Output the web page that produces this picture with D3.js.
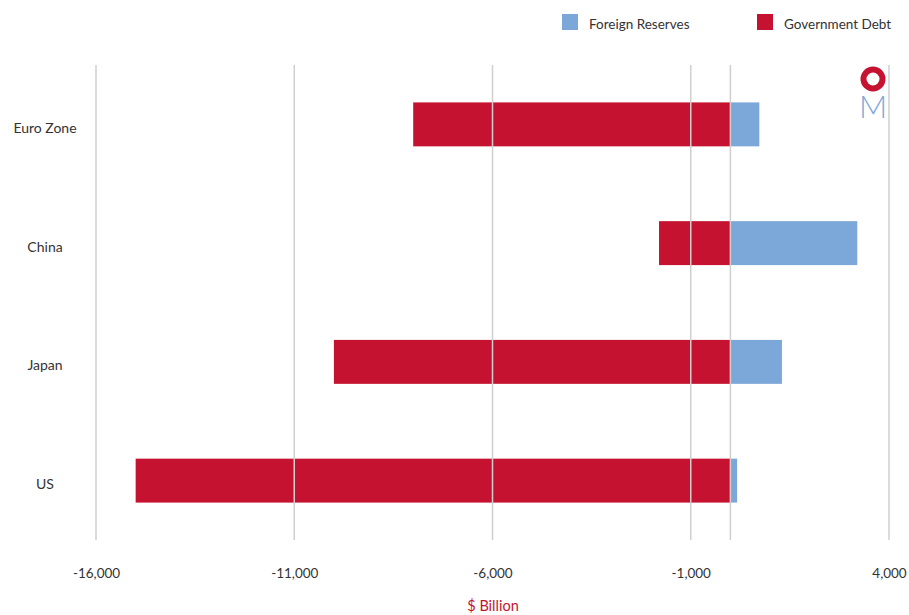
<!DOCTYPE html>
<html><head><meta charset="utf-8">
<script src="https://cdn.jsdelivr.net/npm/d3@7"></script>
<style>body{margin:0;background:#fff}svg{display:block;font-family:"Lato","Open Sans",sans-serif}</style>
</head><body>
<svg id="c" width="909" height="615"></svg>
<script>
const categories = ["Euro Zone", "China", "Japan", "US"];
const governmentDebt = [-8000, -1800, -10000, -15000];
const foreignReserves = [730, 3200, 1300, 170];
const xTicks = [-16000, -11000, -6000, -1000, 4000];
const seriesNames = ["Foreign Reserves", "Government Debt"];
const colors = {"Foreign Reserves": "#7BA7D9", "Government Debt": "#C41230"};

const svg = d3.select("#c");
const x = d3.scaleLinear().domain([-16000, 4000]).range([96, 889]);
const y = d3.scaleBand().domain(categories).range([65, 540]).paddingInner(0.63).paddingOuter(0.315);

// bars
svg.append("g").selectAll("rect.debt").data(categories).join("rect")
  .attr("x", (d,i) => x(governmentDebt[i])).attr("width", (d,i) => x(0) - x(governmentDebt[i]))
  .attr("y", d => y(d)).attr("height", y.bandwidth()).attr("fill", colors["Government Debt"]);
svg.append("g").selectAll("rect.res").data(categories).join("rect")
  .attr("x", x(0)).attr("width", (d,i) => x(foreignReserves[i]) - x(0))
  .attr("y", d => y(d)).attr("height", y.bandwidth()).attr("fill", colors["Foreign Reserves"]);

// gridlines
const grid = xTicks.concat([0]);
svg.append("g").selectAll("line").data(grid).join("line")
  .attr("x1", d => x(d)).attr("x2", d => x(d)).attr("y1", 65).attr("y2", 540)
  .attr("stroke", "#cfcfcf").attr("stroke-width", 1.5);

// x axis labels
const fmt = d3.format(",d");
const xAxis = d3.axisBottom(x).tickValues(xTicks).tickSize(0).tickPadding(0)
  .tickFormat(d => fmt(d).replace("\u2212", "-"));
const gx = svg.append("g").attr("transform", "translate(0,568)").call(xAxis);
gx.select(".domain").remove();
gx.selectAll("text").attr("font-size", 13.5).attr("fill", "#333").attr("font-family", "Lato, sans-serif");

svg.append("text").attr("x", 493).attr("y", 611).attr("text-anchor", "middle")
  .attr("font-size", 14.5).attr("fill", "#C41230").text("$ Billion");

// y axis labels
const yAxis = d3.axisLeft(y).tickSize(0).tickPadding(0);
const gy = svg.append("g").attr("transform", "translate(45,4)").call(yAxis);
gy.select(".domain").remove();
gy.selectAll("text").attr("text-anchor", "middle").attr("font-size", 14).attr("fill", "#333").attr("font-family", "Lato, sans-serif");

// legend
const legX = [562, 757];
const leg = svg.append("g").selectAll("g").data(seriesNames).join("g")
  .attr("transform", (d,i) => `translate(${legX[i]},14)`);
leg.append("rect").attr("width", 16).attr("height", 16).attr("fill", d => colors[d]);
leg.append("text").attr("x", 27).attr("y", 15).attr("font-size", 13.5).attr("fill", "#333").text(d => d);

// logo
svg.append("circle").attr("cx", 873).attr("cy", 79).attr("r", 9.5)
  .attr("fill", "none").attr("stroke", "#C41230").attr("stroke-width", 6);
svg.append("text").attr("x", 873).attr("y", 118).attr("text-anchor", "middle")
  .attr("font-size", 31).attr("font-weight", 300).attr("fill", "#7BA7D9").text("M");
</script>
</body></html>
